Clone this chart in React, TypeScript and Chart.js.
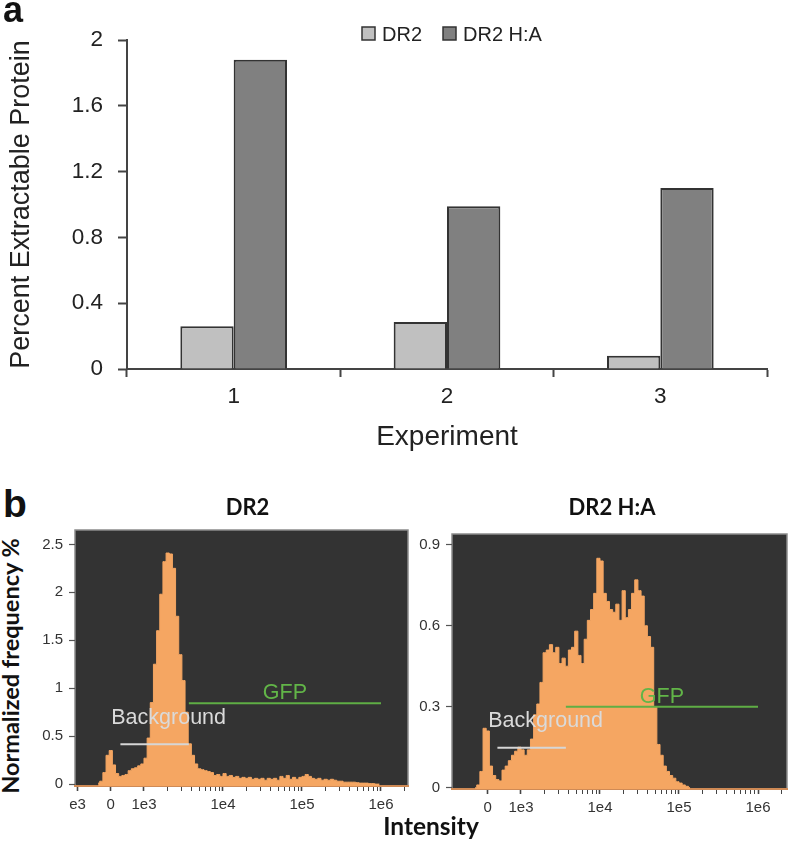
import React, { useEffect, useRef } from 'react';
import { Chart, registerables } from 'chart.js';

Chart.register(...registerables);

const FONT = '"Liberation Sans", Arial, Helvetica, sans-serif';
const BOLD_FONT = 'Lato, "Liberation Sans", Arial, sans-serif';

// ---------- Panel a data ----------
const experiments = ['1', '2', '3'];
const dr2Percent = [0.26, 0.285, 0.08];
const dr2HaPercent = [1.88, 0.99, 1.1];
const percentTicks = [0, 0.4, 0.8, 1.2, 1.6, 2];

// ---------- Panel b data ----------
// histogram bins in display units (decades relative to 1e3), start and width
const histBinStart = -0.6;
const histBinWidth = 0.04;
const dr2Freq = [
  0.01, 0.03, 0.12, 0.30, 0.35, 0.20, 0.11, 0.08, 0.09, 0.10,
  0.14, 0.16, 0.17, 0.19, 0.21, 0.27, 0.48, 0.85, 1.25, 1.60,
  1.98, 2.32, 2.41, 2.40, 2.25, 1.75, 1.35, 1.08, 0.75, 0.42,
  0.30, 0.21, 0.16, 0.15, 0.14, 0.13, 0.12, 0.09, 0.10, 0.08,
  0.11, 0.08, 0.09, 0.07, 0.08, 0.06, 0.07, 0.06, 0.07, 0.05,
  0.06, 0.05, 0.06, 0.04, 0.06, 0.05, 0.06, 0.04, 0.08, 0.06,
  0.09, 0.05, 0.07, 0.05, 0.07, 0.08, 0.10, 0.08, 0.06, 0.05,
  0.06, 0.04, 0.05, 0.04, 0.05, 0.04, 0.03, 0.03, 0.02, 0.02,
  0.02, 0.02, 0.015, 0.01, 0.01, 0.01, 0.005, 0.005, 0, 0,
];
const dr2HaFreq = [
  0, 0.01, 0.06, 0.22, 0.21, 0.08, 0.045, 0.03, 0.025, 0.065,
  0.08, 0.10, 0.12, 0.135, 0.15, 0.14, 0.12, 0.14, 0.18, 0.27,
  0.31, 0.39, 0.50, 0.51, 0.53, 0.50, 0.52, 0.46, 0.48, 0.45,
  0.51, 0.52, 0.58, 0.49, 0.46, 0.55, 0.62, 0.66, 0.72, 0.85,
  0.84, 0.72, 0.69, 0.66, 0.65, 0.68, 0.62, 0.73, 0.63, 0.66,
  0.72, 0.77, 0.73, 0.71, 0.60, 0.56, 0.52, 0.30, 0.16, 0.12,
  0.08, 0.06, 0.045, 0.035, 0.022, 0.017, 0.01, 0.005, 0,
];
const dr2FreqTicks = [0, 0.5, 1, 1.5, 2, 2.5];
const dr2HaFreqTicks = [0, 0.3, 0.6, 0.9];
const dr2IntensityTicks = [-1000, 0, 1e3, 1e4, 1e5, 1e6];
const dr2IntensityLabels = ['e3', '0', '1e3', '1e4', '1e5', '1e6'];
const dr2HaIntensityTicks = [0, 1e3, 1e4, 1e5, 1e6];
const dr2HaIntensityLabels = ['0', '1e3', '1e4', '1e5', '1e6'];
const minorIntensityTicks = [
  2e3, 3e3, 4e3, 5e3, 6e3, 7e3, 8e3, 9e3,
  2e4, 3e4, 4e4, 5e4, 6e4, 7e4, 8e4, 9e4,
  2e5, 3e5, 4e5, 5e5, 6e5, 7e5, 8e5, 9e5,
  2e6,
];
const gateNames = ['Background', 'GFP'];
const gateRanges = [
  [290, 3700],
  [3700, 1e6],
];
const dr2GateLevels = [0.415, 0.843];
const dr2HaGateLevels = [0.148, 0.3];

// biexponential-like display transform: log above 1e3, linear around 0
function toDisplay(v: number): number {
  return v >= 1000 ? Math.log10(v) - 3 : -0.42 + 0.42 * (v / 1000);
}

const topLegendPlugin = {
  id: 'topLegend',
  afterDraw(chart: any) {
    const ctx = chart.ctx;
    ctx.save();
    ctx.font = `20px ${FONT}`;
    ctx.textBaseline = 'alphabetic';
    ctx.textAlign = 'left';
    let x = chart.chartArea.left + 235;
    const boxTop = 27;
    const size = 13;
    chart.data.datasets.forEach((ds: any) => {
      ctx.fillStyle = ds.backgroundColor;
      ctx.fillRect(x, boxTop, size, size);
      ctx.strokeStyle = '#333';
      ctx.lineWidth = 1.5;
      ctx.strokeRect(x, boxTop, size, size);
      ctx.fillStyle = '#222';
      ctx.fillText(ds.label, x + 20, boxTop + 14);
      x += 20 + ctx.measureText(ds.label).width + 21;
    });
    ctx.restore();
  },
};

const plotBgPlugin = {
  id: 'plotBg',
  beforeDraw(chart: any) {
    const { ctx, chartArea: a } = chart;
    ctx.save();
    ctx.fillStyle = '#333333';
    ctx.fillRect(a.left, a.top, a.right - a.left, a.bottom - a.top);
    ctx.strokeStyle = '#8c8c8c';
    ctx.lineWidth = 1.5;
    ctx.strokeRect(a.left, a.top, a.right - a.left, a.bottom - a.top);
    ctx.restore();
  },
};

const gateLabelPlugin = {
  id: 'gateLabels',
  afterDatasetsDraw(chart: any, _args: any, opts: any) {
    const ctx = chart.ctx;
    const styles = (opts && opts.styles) || {};
    ctx.save();
    ctx.font = `21.5px ${FONT}`;
    ctx.textAlign = 'center';
    ctx.textBaseline = 'middle';
    chart.data.datasets.forEach((ds: any, i: number) => {
      const st = styles[ds.label];
      if (!st) return;
      const pts = chart.getDatasetMeta(i).data;
      const mid = (pts[0].x + pts[1].x) / 2;
      ctx.fillStyle = st.color;
      ctx.fillText(ds.label, mid + st.dx, pts[0].y + st.dy);
    });
    ctx.restore();
  },
};

function makeBarConfig(): any {
  return {
    type: 'bar',
    data: {
      labels: experiments,
      datasets: [
        {
          label: 'DR2',
          data: dr2Percent,
          backgroundColor: '#c0c0c0',
          borderColor: '#333333',
          borderWidth: 2,
          categoryPercentage: 0.5,
          barPercentage: 1,
        },
        {
          label: 'DR2 H:A',
          data: dr2HaPercent,
          backgroundColor: '#808080',
          borderColor: '#333333',
          borderWidth: 2,
          categoryPercentage: 0.5,
          barPercentage: 1,
        },
      ],
    },
    options: {
      responsive: false,
      animation: false,
      layout: { padding: { top: 40, right: 21, left: 0, bottom: 0 } },
      scales: {
        x: {
          grid: { offset: true, drawOnChartArea: false, tickLength: 8, tickColor: '#444', tickWidth: 2 },
          border: { color: '#444', width: 2 },
          ticks: { color: '#222', font: { family: FONT, size: 22.5 }, padding: 6 },
          title: {
            display: true,
            text: 'Experiment',
            color: '#222',
            font: { family: FONT, size: 28 },
            padding: { top: 0, bottom: 1 },
          },
          afterFit: (s: any) => {
            s.height = 86;
          },
        },
        y: {
          min: 0,
          max: 2,
          afterBuildTicks: (s: any) => {
            s.ticks = percentTicks.map((v) => ({ value: v }));
          },
          ticks: {
            color: '#222',
            font: { family: FONT, size: 22.5 },
            padding: 15,
            callback: (v: any) => String(v),
          },
          grid: { drawOnChartArea: false, tickLength: 9, tickColor: '#444', tickWidth: 2 },
          border: { color: '#444', width: 2 },
          title: {
            display: true,
            text: 'Percent Extractable Protein',
            color: '#222',
            font: { family: FONT, size: 27 },
            padding: { top: 5, bottom: 0 },
          },
          afterFit: (s: any) => {
            s.width = 127;
          },
        },
      },
      plugins: { legend: { display: false }, tooltip: { enabled: false }, title: { display: false } },
    },
    plugins: [topLegendPlugin],
  };
}

function makeHistConfig(p: {
  freq: number[];
  yTicks: number[];
  yMin: number;
  yMax: number;
  majorTicks: number[];
  majorLabels: string[];
  gateLevels: number[];
  yAxisWidth: number;
  xAxisHeight: number;
  xMax: number;
  padRight: number;
}): any {
  const majorDisplay = p.majorTicks.map(toDisplay);
  const allTicks = [...p.majorTicks, ...minorIntensityTicks].map(toDisplay).sort((a, b) => a - b);
  const isMajor = (v: number) => majorDisplay.some((m) => Math.abs(m - v) < 1e-6);
  const gateColors = ['#d6d6d6', '#5fae45'];
  const gateDatasets = gateNames.map((name, gi) => ({
    type: 'line',
    label: name,
    data: [
      { x: toDisplay(gateRanges[gi][0]), y: p.gateLevels[gi] },
      { x: toDisplay(gateRanges[gi][1]), y: p.gateLevels[gi] },
    ],
    borderColor: gateColors[gi],
    borderWidth: 2,
    pointRadius: 0,
    fill: false,
  }));
  return {
    type: 'line',
    data: {
      datasets: [
        ...gateDatasets,
        {
          label: 'hist',
          data: p.freq.map((f, i) => ({ x: histBinStart + (i + 0.5) * histBinWidth, y: f })),
          stepped: 'middle',
          fill: 'start',
          backgroundColor: '#f5a662',
          borderColor: '#f5a662',
          borderWidth: 1,
          pointRadius: 0,
        },
      ],
    },
    options: {
      responsive: false,
      animation: false,
      layout: { padding: { top: 13, right: p.padRight, left: 0, bottom: 0 } },
      scales: {
        x: {
          type: 'linear',
          min: -0.873,
          max: p.xMax,
          afterBuildTicks: (s: any) => {
            s.ticks = allTicks.map((v) => ({ value: v }));
          },
          ticks: {
            autoSkip: false,
            maxRotation: 0,
            padding: 5,
            color: '#333',
            font: { family: FONT, size: 15 },
            callback: (val: any) => {
              const idx = majorDisplay.findIndex((m) => Math.abs(m - val) < 1e-6);
              return idx >= 0 ? p.majorLabels[idx] : '';
            },
          },
          grid: {
            drawOnChartArea: false,
            tickLength: 5,
            tickColor: '#444',
            tickWidth: (ctx: any) => (ctx.tick && isMajor(ctx.tick.value) ? 1.6 : 1),
          },
          border: { display: true, color: '#cf8a55', width: 2 },
          afterFit: (s: any) => {
            s.height = p.xAxisHeight;
          },
        },
        y: {
          min: p.yMin,
          max: p.yMax,
          afterBuildTicks: (s: any) => {
            s.ticks = p.yTicks.map((v) => ({ value: v }));
          },
          ticks: {
            padding: 6,
            color: '#333',
            font: { family: FONT, size: 15 },
            callback: (v: any) => String(v),
          },
          grid: { drawOnChartArea: false, tickLength: 6, tickColor: '#555', tickWidth: 1.2 },
          border: { display: false },
          afterFit: (s: any) => {
            s.width = p.yAxisWidth;
          },
        },
      },
      plugins: {
        legend: { display: false },
        tooltip: { enabled: false },
        title: { display: false },
        gateLabels: {
          styles: {
            Background: { dx: 14, dy: -26.5, color: '#dadada' },
            GFP: { dx: 0, dy: -10, color: '#62b548' },
          },
        },
      },
    },
    plugins: [plotBgPlugin, gateLabelPlugin],
  };
}

function ChartCanvas(props: { make: () => any; left: number; top: number; width: number; height: number }) {
  const ref = useRef<HTMLCanvasElement | null>(null);
  useEffect(() => {
    if (!ref.current) return;
    const chart = new Chart(ref.current, props.make());
    return () => chart.destroy();
  }, []);
  return (
    <canvas
      ref={ref}
      width={props.width}
      height={props.height}
      style={{ position: 'absolute', left: props.left, top: props.top, width: props.width, height: props.height }}
    />
  );
}

const textBase: React.CSSProperties = { position: 'absolute', whiteSpace: 'nowrap', color: '#111' };

export default function App() {
  return (
    <div style={{ position: 'absolute', left: 0, top: 0, width: 788, height: 846, background: '#fff', overflow: 'hidden' }}>
      <ChartCanvas make={makeBarConfig} left={0} top={0} width={788} height={455} />
      <ChartCanvas
        make={() =>
          makeHistConfig({
            freq: dr2Freq,
            yTicks: dr2FreqTicks,
            yMin: -0.02,
            yMax: 2.65,
            majorTicks: dr2IntensityTicks,
            majorLabels: dr2IntensityLabels,
            gateLevels: dr2GateLevels,
            yAxisWidth: 45,
            xAxisHeight: 29,
            xMax: 3.342,
            padRight: 4,
          })
        }
        left={30}
        top={515}
        width={382}
        height={300}
      />
      <ChartCanvas
        make={() =>
          makeHistConfig({
            freq: dr2HaFreq,
            yTicks: dr2HaFreqTicks,
            yMin: -0.005,
            yMax: 0.94,
            majorTicks: dr2HaIntensityTicks,
            majorLabels: dr2HaIntensityLabels,
            gateLevels: dr2HaGateLevels,
            yAxisWidth: 40,
            xAxisHeight: 30,
            xMax: 3.367,
            padRight: 1,
          })
        }
        left={412}
        top={519}
        width={376}
        height={300}
      />
      <div style={{ ...textBase, left: 3, top: -8.5, font: `bold 36px ${FONT}`, lineHeight: '36px' }}>a</div>
      <div style={{ ...textBase, left: 3, top: 484, font: `bold 39px ${FONT}`, lineHeight: '39px' }}>b</div>
      <div
        style={{ ...textBase, left: 147.5, width: 200, top: 495.5, textAlign: 'center', font: `bold 22px ${BOLD_FONT}`, lineHeight: '22px' }}
      >
        DR2
      </div>
      <div
        style={{ ...textBase, left: 512, width: 200, top: 495.5, textAlign: 'center', font: `bold 22px ${BOLD_FONT}`, lineHeight: '22px' }}
      >
        DR2 H:A
      </div>
      <div
        style={{
          ...textBase,
          left: 11,
          top: 666,
          font: `bold 23.5px ${BOLD_FONT}`,
          lineHeight: '23.5px',
          transform: 'translate(-50%, -50%) rotate(-90deg)',
        }}
      >
        Normalized frequency %
      </div>
      <div
        style={{ ...textBase, left: 331, width: 200, top: 814, textAlign: 'center', font: `bold 24.5px ${BOLD_FONT}`, lineHeight: '24.5px' }}
      >
        Intensity
      </div>
    </div>
  );
}
